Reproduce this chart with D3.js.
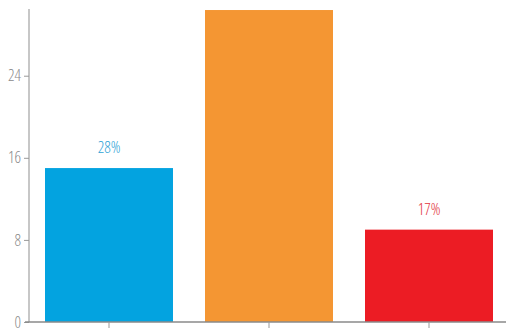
<!DOCTYPE html>
<html>
<head>
<meta charset="utf-8">
<script src="https://cdn.jsdelivr.net/npm/d3@7/dist/d3.min.js"></script>
<style>
  html, body { margin: 0; padding: 0; background: #fff; }
  svg { display: block; }
  .cond { font-family: "Open Sans", sans-serif; font-stretch: 75%; font-weight: 300; }
</style>
</head>
<body>
<svg id="chart" width="506" height="329"></svg>
<script>
// Categories and their values
const categories = ["A", "B", "C"];
const values = [15, 30.4, 9];
const colors = ["#03a3e0", "#f49633", "#ec1c24"];
const labelColors = ["#2fa3d6", null, "#e2343c"];
const yTicks = [0, 8, 16, 24];

const total = d3.sum(values);
const pct = values.map(v => Math.round(v / total * 100) + "%");
// Only the first and last bars carry a share label
const labelled = [0, 2];

const svg = d3.select("#chart");
const x0 = 29, y0 = 322, yTop = 9;

const x = d3.scaleBand().domain(categories).range([x0, 509]).paddingInner(0.2).paddingOuter(0.1);
const y = d3.scaleLinear().domain([0, 30.5]).range([y0, yTop]);

// Bars
svg.selectAll("rect.bar").data(values).join("rect")
  .attr("class", "bar")
  .attr("x", (d, i) => x(categories[i]))
  .attr("width", x.bandwidth())
  .attr("y", d => y(d))
  .attr("height", d => y(0) - y(d))
  .attr("fill", (d, i) => colors[i]);

// Y axis
const yAxis = svg.append("g").attr("transform", `translate(${x0},0)`)
  .call(d3.axisLeft(y).tickValues(yTicks).tickSize(5).tickPadding(3).tickFormat(d3.format("d")));
yAxis.select(".domain").attr("stroke", "#b5b5b5").attr("stroke-width", 1.5).attr("d", `M0,${y0}V${yTop}`);
yAxis.selectAll(".tick line").attr("stroke", "#999");
yAxis.selectAll(".tick text").attr("class", "cond").attr("fill", "#8a8a8a").attr("font-size", 16);

// X axis
const xAxis = svg.append("g").attr("transform", `translate(0,${y0})`)
  .call(d3.axisBottom(x).tickSize(6).tickFormat(""));
xAxis.select(".domain").attr("stroke", "#8a8a8a").attr("stroke-width", 1.5).attr("d", `M${x0 - 4},0H506`);
xAxis.selectAll(".tick line").attr("stroke", "#999");

// Share labels above bars
svg.selectAll("text.lbl").data(labelled).join("text")
  .attr("class", "lbl cond")
  .attr("x", i => x(categories[i]) + x.bandwidth() / 2)
  .attr("y", i => y(values[i]) - 15)
  .attr("text-anchor", "middle")
  .attr("font-size", 16)
  .attr("fill", i => labelColors[i])
  .text(i => pct[i]);
</script>
</body>
</html>
